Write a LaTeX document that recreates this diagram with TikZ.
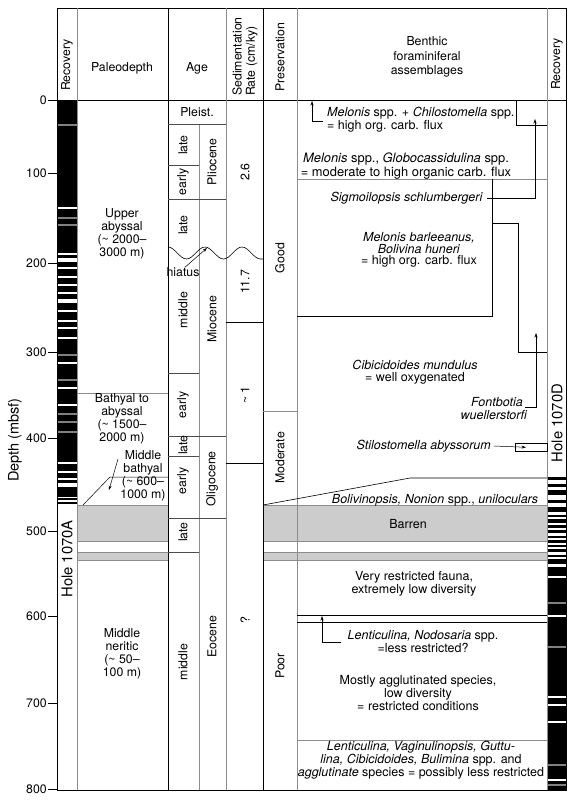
\documentclass[tikz,border=0pt]{standalone}
\usepackage{fontspec}
\setmainfont{TeX Gyre Heros}
\usepackage{tikz}
\usetikzlibrary{arrows.meta}

\begin{document}
\begin{tikzpicture}[x=1pt, y=-1pt,
    txt/.style={font=\fontsize{12.3}{13.2}\selectfont, align=center, inner sep=0pt},
    btxt/.style={font=\fontsize{12.5}{11.8}\selectfont, align=center, inner sep=0pt},
    vtxt/.style={txt, rotate=90},
    hole/.style={vtxt, font=\fontsize{14.8}{16}\selectfont},
    gline/.style={draw=black!45, line width=0.7pt},
    aline/.style={draw=black!70, line width=0.6pt},
    bline/.style={draw=black, line width=0.6pt},
    barren/.style={fill=black!20},
    ptr/.style={-{Stealth[length=4.5pt, width=3pt]}, line width=0.5pt}]

    \useasboundingbox (0,0) rectangle (573,801);

    % Barren intervals
    \foreach \xa/\xb in {77/168, 263/547} {
        \fill[barren] (\xa,505) rectangle (\xb,541);
        \fill[barren] (\xa,552) rectangle (\xb,560);
        \foreach \y in {505,541,552,560}
            \draw[gline] (\xa,\y) -- (\xb,\y);
    }

    % Recovery, Hole 1070A
    \fill (57,100) rectangle (77,504);
    \foreach \y/\h in {208/1.2, 254/1.4, 260/3.5, 268/2, 277/2.5, 285/2, 293/2,
                       301/4, 311/2, 321/2, 328/2, 338/2, 363/1.4, 388/1.4,
                       405/1.4, 463/2.5, 472/2, 479/2, 485/4, 497.5/1.5, 501/1.2}
        \fill[white] (57,\y-\h/2) rectangle (77,\y+\h/2);
    \foreach \y in {125, 218, 225, 355, 380, 414, 422, 432}
        \fill[black!50] (57,\y-0.6) rectangle (77,\y+0.6);
    \node[hole] (holeA) at (67,559) {Hole 1070A};

    % Recovery, Hole 1070D
    \fill (547,477) rectangle (566,790);
    \foreach \y/\h in {482/4, 488/3, 497/5, 505/4, 513/3, 518/1.5, 524/2, 529/1.5,
                       534/3, 539/1.5, 544/1.5, 548/2, 553/3, 558/2, 565/3, 577/1.5,
                       616/1.5, 697/1.4, 705/1.4, 722/1.4, 780/1.4}
        \fill[white] (547,\y-\h/2) rectangle (566,\y+\h/2);
    \foreach \y in {603, 647, 765, 785}
        \fill[black!50] (547,\y-0.6) rectangle (566,\y+0.6);
    \node[hole] (holeD) at (557,423) {Hole 1070D};

    % Frame and columns
    \draw[bline] (57,8) rectangle (566,790);
    \draw[bline] (57,100) -- (566,100);
    \foreach \x in {77, 226, 297, 547}
        \draw[gline] (\x,8) -- (\x,790);
    \foreach \x in {168, 263}
        \draw[bline] (\x,8) -- (\x,790);
    \draw[gline] (199,124) -- (199,790);

    % Depth axis
    \foreach \d/\y in {0/100, 100/173, 200/263, 300/352, 400/438,
                       500/531, 600/616, 700/703, 800/789} {
        \coordinate (t\d) at (57,\y);
        \draw[bline] (t\d) -- ++(-9,0) node[txt, anchor=east, inner sep=1pt] (d\d) {\d};
    }
    \node[vtxt, font=\fontsize{14.5}{16}\selectfont] (depth) at (15,440) {Depth (mbsf)};

    % Column heads
    \node[vtxt, anchor=west] (hRecA) at (67,91) {Recovery};
    \node[txt] (hPaleo) at (122,68) {Paleodepth};
    \node[txt] (hAge) at (197,68) {Age};
    \node[vtxt, anchor=west, align=left] (hSed) at (245,96) {Sedimentation\\Rate (cm/ky)};
    \node[vtxt, anchor=west] (hPres) at (280,92) {Preservation};
    \node[txt, font=\fontsize{12.3}{14.5}\selectfont] (hBenth) at (427,57) {Benthic\\foraminiferal\\assemblages};
    \node[vtxt, anchor=west] (hRecD) at (557,90) {Recovery};

    % Paleodepth
    \node[txt] (pdUpper) at (122,234) {Upper\\abyssal\\(\textasciitilde{} 2000–\\3000 m)};
    \draw[gline] (77,393) -- (168,393);
    \node[txt] (pdBath) at (122,419) {Bathyal to\\abyssal\\(\textasciitilde{} 1500–\\2000 m)};
    \node[txt] (pdMidB) at (143,476) {Middle\\bathyal\\(\textasciitilde{} 600–\\1000 m)};
    \draw[bline, line width=0.5pt] (83,505) -- (110,477) -- (168,477);
    \coordinate (mbA) at (118,459);
    \coordinate (mbB) at (109,490);
    \draw[ptr] (mbA) -- (mbB);
    \node[txt] (pdNer) at (122,654) {Middle\\neritic\\(\textasciitilde{} 50–\\100 m)};

    % Age
    \foreach \y/\xb in {124/226, 165/199, 199/226, 373/199, 436/226, 456/199, 518/226, 552/199}
        \draw[aline] (168,\y) -- (\xb,\y);
    \node[txt] (pleist) at (197,112) {Pleist.};
    \node[vtxt] (plLate) at (183,145) {late};
    \node[vtxt] (plEarly) at (183,182) {early};
    \node[vtxt] (plio) at (212,162) {Pliocene};
    \node[vtxt] (miLate) at (183,225) {late};
    \node[vtxt] (miMid) at (183,310) {middle};
    \node[vtxt] (mio) at (212,319) {Miocene};
    \node[vtxt] (miEarly) at (183,405) {early};
    \node[vtxt] (olLate) at (183,445) {late};
    \node[vtxt] (olEarly) at (183,481) {early};
    \node[vtxt] (oligo) at (212,479) {Oligocene};
    \node[vtxt] (eoLate) at (183,532) {late};
    \node[vtxt] (eoMid) at (183,662) {middle};
    \node[vtxt] (eoc) at (212,637) {Eocene};

    % Hiatus
    \draw[line width=0.6pt] (168,247) cos (177.25,253) sin (186.5,259) cos (195.75,253)
        sin (205,247) cos (214.25,253) sin (223.5,259) cos (232.75,253)
        sin (242,247) cos (251.25,253) sin (260.5,259) -- (263,259);
    \node[txt] (hiatus) at (183,272) {hiatus};
    \coordinate (hCrest) at (207,248);
    \draw[ptr] ([xshift=2pt]hiatus.north) -- (hCrest);

    % Sedimentation rate
    \draw[bline] (226,322) -- (263,322);
    \draw[bline] (226,463) -- (263,463);
    \node[vtxt] (sr1) at (245,172) {2.6};
    \node[vtxt] (sr2) at (245,282) {11.7};
    \node[vtxt] (sr3) at (245,395) {\textasciitilde{} 1};
    \node[vtxt] (sr4) at (245,620) {?};

    % Preservation
    \draw[gline] (263,411) -- (297,411);
    \node[vtxt] (pGood) at (280,258) {Good};
    \node[vtxt] (pMod) at (280,458) {Moderate};
    \node[vtxt] (pPoor) at (280,666) {Poor};

    % Benthic assemblages
    \draw[bline] (516,100) -- (516,125) -- (547,125);
    \node[btxt, align=left, anchor=west] (bMelChil) at (327,119.5)
        {\textit{Melonis} spp. + \textit{Chilostomella} spp.\\= high org. carb. flux};
    \coordinate (mcTip) at (312,101);
    \draw[ptr] ([xshift=-4pt,yshift=-2pt]bMelChil.west) -| (mcTip);
    \node[btxt, font=\fontsize{12.9}{12}\selectfont] (bMelGlob) at (406,166)
        {\textit{Melonis} spp., \textit{Globocassidulina} spp.\\= moderate to high organic carb. flux};
    \draw[gline] (297,179) -- (547,179);
    \node[btxt, anchor=east] (bSigmo) at (483,198) {\textit{Sigmoilopsis schlumbergeri}};
    \coordinate (sgTip) at (535,119);
    \draw[ptr] ([xshift=4pt]bSigmo.east) -| (sgTip);
    \draw[bline] (492,179) -- (492,316) -- (297,316);
    \node[btxt] (bMelBar) at (419,250)
        {\textit{Melonis barleeanus,}\\\textit{Bolivina huneri}\\= high org. carb. flux};
    \draw[bline] (492,223) -- (518,223) -- (518,352) -- (547,352);
    \node[btxt] (bCibic) at (415,372) {\textit{Cibicidoides mundulus}\\= well oxygenated};
    \node[btxt] (bFont) at (497,402) {\textit{Fontbotia}};
    \node[btxt] (bWuel) at (494,415) {\textit{wuellerstorfi}};
    \coordinate (fbTip) at (536,333);
    \draw[ptr] ([xshift=2pt,yshift=-5pt]bFont.east) -| (fbTip);
    \node[btxt, anchor=east] (bStilo) at (491,446) {\textit{Stilostomella abyssorum}};
    \node[draw, line width=0.5pt, minimum width=32pt, minimum height=8pt, inner sep=0pt,
          anchor=north west] (stBox) at (515,443) {};
    \draw[ptr] ([xshift=3pt]bStilo.east) -- ([xshift=11pt]stBox.west);
    \draw[bline] (263,505) -- (410,478) -- (547,478);
    \node[btxt] (bBoliv) at (435,500) {\textit{Bolivinopsis, Nonion} spp., \textit{uniloculars}};
    \node[btxt] (bBarren) at (408,524) {Barren};
    \node[btxt] (bVery) at (414,584) {Very restricted fauna,\\extremely low diversity};
    \draw[bline] (297,615) -- (547,615);
    \draw[bline] (297,622) -- (547,622);
    \node[btxt] (bLent) at (423,642) {\textit{Lenticulina, Nodosaria} spp.\\=less restricted?};
    \coordinate (lnTip) at (322,616);
    \draw[ptr] ([xshift=-6pt]bLent.west) -| (lnTip);
    \node[btxt] (bMost) at (418,693) {Mostly agglutinated species,\\low diversity\\= restricted conditions};
    \draw[gline] (297,740) -- (547,740);
    \node[btxt] (bLast) at (421,760)
        {\textit{Lenticulina, Vaginulinopsis, Guttu-}\\\textit{lina, Cibicidoides, Bulimina} spp. and\\\textit{agglutinate} species = possibly less restricted};
\end{tikzpicture}
\end{document}
